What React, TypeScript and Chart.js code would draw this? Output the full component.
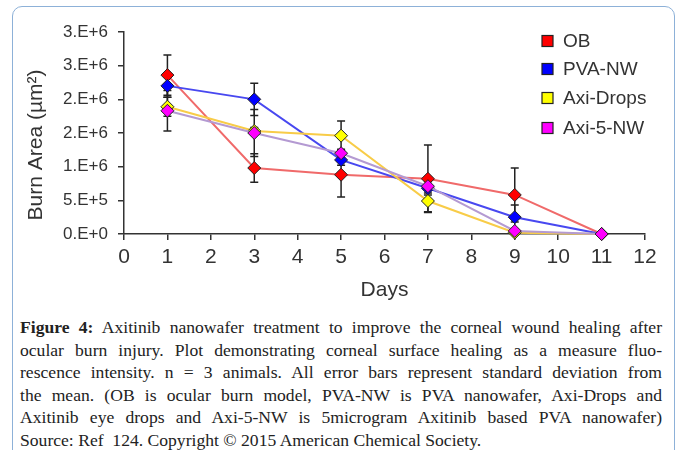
import React, { useEffect, useRef } from "react";
import { Chart, registerables } from "chart.js";

Chart.register(...registerables);

const days = [1, 3, 5, 7, 9, 11];
const seriesNames = ["OB", "PVA-NW", "Axi-Drops", "Axi-5-NW"];
const obValues = [2.36e6, 0.98e6, 0.88e6, 0.82e6, 0.58e6, 0];
const obErrors = [0.3e6, 0.21e6, 0.33e6, 0.5e6, 0.4e6, 0];
const pvaValues = [2.2e6, 2.0e6, 1.1e6, 0.68e6, 0.25e6, 0];
const pvaErrors = [0.17e6, 0.24e6, 0.08e6, 0.1e6, 0.18e6, 0];
const dropsValues = [1.89e6, 1.53e6, 1.46e6, 0.49e6, 0.02e6, 0];
const dropsErrors = [0.14e6, 0.05e6, 0.22e6, 0.16e6, 0, 0];
const axi5Values = [1.83e6, 1.5e6, 1.2e6, 0.71e6, 0.045e6, 0];
const axi5Errors = [0.3e6, 0.35e6, 0.06e6, 0.1e6, 0, 0];
const yTickLabels = ["0.E+0", "5.E+5", "1.E+6", "2.E+6", "2.E+6", "3.E+6", "3.E+6"];
const xTickValues = [0, 1, 2, 3, 4, 5, 6, 7, 8, 9, 10, 11, 12];

const captionBold = "Figure 4:";
const captionLines = [
  " Axitinib nanowafer treatment to improve the corneal wound healing after",
  "ocular burn injury. Plot demonstrating corneal surface healing as a measure fluo-",
  "rescence intensity. n = 3 animals. All error bars represent standard deviation from",
  "the mean. (OB is ocular burn model, PVA-NW is PVA nanowafer, Axi-Drops and",
  "Axitinib eye drops and Axi-5-NW is 5microgram Axitinib based PVA nanowafer)",
  "Source: Ref  124. Copyright © 2015 American Chemical Society.",
];

const markerColors = ["#ff0000", "#0000ff", "#ffff00", "#ff00ff"];
const lineColors = ["#f06a6a", "#4848f0", "#f8cc48", "#b49ad2"];

const SANS = '"Liberation Sans", Arial, sans-serif';

const errorBarPlugin = {
  id: "errorBars",
  beforeDatasetsDraw(chart: any) {
    const { ctx, scales } = chart;
    const x = scales.x;
    const y = scales.y;
    ctx.save();
    ctx.strokeStyle = "#222";
    ctx.lineWidth = 1.5;
    chart.data.datasets.forEach((ds: any) => {
      ds.data.forEach((pt: any, i: number) => {
        const e = ds.errors[i];
        if (!e) return;
        const px = x.getPixelForValue(pt.x);
        const top = y.getPixelForValue(pt.y + e);
        const bot = y.getPixelForValue(pt.y - e);
        ctx.beginPath();
        ctx.moveTo(px, top);
        ctx.lineTo(px, bot);
        ctx.moveTo(px - 4, top);
        ctx.lineTo(px + 4, top);
        ctx.moveTo(px - 4, bot);
        ctx.lineTo(px + 4, bot);
        ctx.stroke();
      });
    });
    ctx.restore();
  },
};

const decorPlugin = {
  id: "decor",
  afterDraw(chart: any) {
    const ctx = chart.ctx;
    ctx.save();
    ctx.translate(36, 145);
    ctx.rotate(-Math.PI / 2);
    ctx.fillStyle = "#333";
    ctx.font = `21px ${SANS}`;
    ctx.textAlign = "center";
    ctx.textBaseline = "middle";
    ctx.fillText("Burn Area (µm²)", 0, 0);
    ctx.restore();

    const ys = [41, 69, 98, 128];
    ctx.save();
    chart.data.datasets.forEach((ds: any, i: number) => {
      ctx.fillStyle = ds.pointBackgroundColor;
      ctx.fillRect(542, ys[i] - 5.5, 11, 11);
      ctx.strokeStyle = "#222";
      ctx.lineWidth = 1.2;
      ctx.strokeRect(542, ys[i] - 5.5, 11, 11);
      ctx.fillStyle = "#333";
      ctx.font = `19px ${SANS}`;
      ctx.textAlign = "left";
      ctx.textBaseline = "middle";
      ctx.fillText(ds.label, 563, ys[i] + 1);
    });
    ctx.restore();
  },
};

function makeDataset(i: number, values: number[], errors: number[]) {
  return {
    label: seriesNames[i],
    data: days.map((d, k) => ({ x: d, y: values[k] })),
    errors,
    borderColor: lineColors[i],
    backgroundColor: markerColors[i],
    pointBackgroundColor: markerColors[i],
    pointBorderColor: "#222",
    pointBorderWidth: 1,
    pointStyle: "rectRot",
    pointRadius: 6.5,
    borderWidth: 2,
    tension: 0,
    clip: false,
    order: 4 - i,
  };
}

export default function App() {
  const canvasRef = useRef<HTMLCanvasElement | null>(null);

  useEffect(() => {
    if (!canvasRef.current) return;
    const chart = new Chart(canvasRef.current, {
      type: "line",
      data: {
        datasets: [
          makeDataset(0, obValues, obErrors),
          makeDataset(1, pvaValues, pvaErrors),
          makeDataset(2, dropsValues, dropsErrors),
          makeDataset(3, axi5Values, axi5Errors),
        ] as any,
      },
      options: {
        responsive: false,
        animation: false,
        events: [],
        layout: { padding: { left: 0, right: 33, top: 32, bottom: 0 } },
        plugins: { legend: { display: false }, tooltip: { enabled: false } },
        scales: {
          x: {
            type: "linear",
            min: 0,
            max: 12,
            afterFit: (s: any) => {
              s.height = 76;
            },
            afterBuildTicks: (s: any) => {
              s.ticks = xTickValues.map((v) => ({ value: v }));
            },
            ticks: {
              stepSize: 1,
              color: "#333",
              font: { family: SANS, size: 21 },
              padding: 5,
              maxRotation: 0,
              autoSkip: false,
            },
            grid: {
              drawOnChartArea: false,
              drawTicks: true,
              tickLength: 6,
              color: "#333",
              lineWidth: 1.5,
            },
            border: { display: true, color: "#333", width: 1.5 },
            title: {
              display: true,
              text: "Days",
              color: "#333",
              font: { family: SANS, size: 21 },
              padding: { top: 0, bottom: 7 },
            },
          },
          y: {
            type: "linear",
            min: 0,
            max: 3e6,
            afterFit: (s: any) => {
              s.width = 124;
            },
            ticks: {
              stepSize: 5e5,
              color: "#333",
              font: { family: SANS, size: 17 },
              padding: 10,
              autoSkip: false,
              callback: (_v: any, i: number) => yTickLabels[i],
            },
            grid: {
              drawOnChartArea: false,
              drawTicks: true,
              tickLength: 6,
              color: "#333",
              lineWidth: 1.5,
            },
            border: { display: true, color: "#333", width: 1.5 },
          },
        },
      },
      plugins: [errorBarPlugin, decorPlugin],
    } as any);
    return () => chart.destroy();
  }, []);

  return (
    <div
      style={{
        position: "fixed",
        left: 0,
        top: 0,
        width: 678,
        height: 450,
        background: "#fff",
        overflow: "hidden",
      }}
    >
      <div
        style={{
          position: "absolute",
          left: 12,
          top: 6,
          width: 663,
          height: 470,
          border: "1.5px solid #8db1d8",
          borderRadius: 10,
          boxSizing: "border-box",
        }}
      />
      <canvas
        ref={canvasRef}
        width={678}
        height={310}
        style={{ position: "absolute", left: 0, top: 0, display: "block" }}
      />
      <div
        style={{
          position: "absolute",
          left: 20,
          top: 316,
          width: 642,
          fontFamily: '"Liberation Serif", "Times New Roman", serif',
          fontSize: 17.6,
          lineHeight: "22.5px",
          color: "#222",
        }}
      >
        {captionLines.map((line, i) => (
          <div
            key={i}
            style={{
              textAlign: i === captionLines.length - 1 ? "left" : "justify",
              textAlignLast: i === captionLines.length - 1 ? "left" : "justify",
              whiteSpace: "pre-wrap",
            } as any}
          >
            {i === 0 ? <b>{captionBold}</b> : null}
            {line}
          </div>
        ))}
      </div>
    </div>
  );
}
